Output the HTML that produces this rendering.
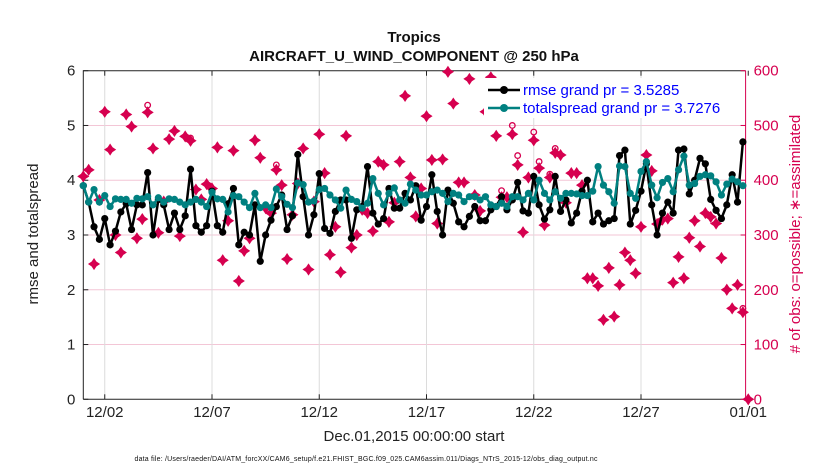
<!DOCTYPE html>
<html><head><meta charset="utf-8"><style>
html,body{margin:0;padding:0;background:#fff;}
svg{display:block;font-family:"Liberation Sans",Arial,sans-serif;}
</style></head><body>
<svg id="chart" width="830" height="470" viewBox="0 0 830 470">
<rect width="830" height="470" fill="#fff"/>
<text x="414" y="42" text-anchor="middle" font-size="15" font-weight="bold" fill="#111">Tropics</text>
<text x="414" y="61" text-anchor="middle" font-size="15" font-weight="bold" fill="#111">AIRCRAFT_U_WIND_COMPONENT @ 250 hPa</text>
<g id="grid"></g>
<g id="axes"></g>
<g id="obs"></g>
<g id="series"></g>
<g id="legend">
  <rect x="484" y="78" width="258" height="40" fill="#fff"/>
  <line x1="488" y1="90" x2="520" y2="90" stroke="#000" stroke-width="2.5"/>
  <circle cx="504" cy="90" r="4" fill="#000"/>
  <text x="523" y="95" font-size="15" fill="#0000ff">rmse grand pr = 3.5285</text>
  <line x1="488" y1="108" x2="520" y2="108" stroke="#008080" stroke-width="2.5"/>
  <circle cx="504" cy="108" r="4" fill="#008080"/>
  <text x="523" y="113" font-size="15" fill="#0000ff">totalspread grand pr = 3.7276</text>
</g>
<text x="0" y="0" transform="translate(38,234) rotate(-90)" text-anchor="middle" font-size="15" fill="#222">rmse and totalspread</text>
<text x="0" y="0" transform="translate(800,234) rotate(-90)" text-anchor="middle" font-size="15" fill="#d6004f"># of obs: o=possible; ∗=assimilated</text>
<text x="414" y="441" text-anchor="middle" font-size="15" fill="#222">Dec.01,2015 00:00:00 start</text>
<text x="366" y="461" text-anchor="middle" font-size="7" fill="#111" textLength="463">data file: /Users/raeder/DAI/ATM_forcXX/CAM6_setup/f.e21.FHIST_BGC.f09_025.CAM6assim.011/Diags_NTrS_2015-12/obs_diag_output.nc</text>
</svg>
<script>
const xTickLabels = ["12/02","12/07","12/12","12/17","12/22","12/27","01/01"];
const xTickDays = [2,7,12,17,22,27,32];
const yTicksLeft = [0,1,2,3,4,5,6];
const yTicksRight = [0,100,200,300,400,500,600];
const rmse = [3.9,3.6,3.15,2.92,3.3,2.82,3.07,3.42,3.57,3.1,3.55,3.55,4.14,3.0,3.65,3.55,3.1,3.4,3.1,3.35,4.2,3.17,3.05,3.17,3.8,3.17,3.05,3.57,3.85,2.82,3.05,3.0,3.55,2.52,3.0,3.27,3.52,3.73,3.1,3.35,4.47,3.7,3.0,3.37,4.12,
3.12,3.03,3.43,3.64,3.64,2.94,3.46,3.52,4.25,3.4,3.2,3.3,3.85,3.49,3.49,3.76,3.64,3.9,3.27,3.52,4.1,3.43,3.0,3.82,3.58,3.24,3.15,3.34,3.52,3.26,3.26,3.46,3.52,3.7,3.46,3.64,3.96,3.44,3.4,4.07,3.55,3.29,3.46,4.07,3.43,3.64,3.22,
3.4,3.8,4.0,3.24,3.4,3.2,3.26,3.3,4.45,4.55,3.2,3.45,3.8,4.3,3.55,3.0,3.4,3.6,3.4,4.55,4.57,3.75,4.0,4.4,4.3,3.65,3.45,3.3,3.55,4.1,3.6,4.7];
const spread = [3.9,3.6,3.83,3.6,3.72,3.52,3.66,3.65,3.65,3.58,3.67,3.66,3.7,3.55,3.68,3.6,3.66,3.65,3.6,3.55,3.6,3.65,3.6,3.52,3.78,3.66,3.65,3.42,3.72,3.7,3.6,3.5,3.76,3.5,3.55,3.5,3.84,3.7,3.56,3.5,3.95,3.92,3.6,3.62,3.83,
3.85,3.73,3.64,3.49,3.82,3.65,3.61,3.49,3.58,4.03,3.76,3.55,3.76,3.86,3.64,3.58,3.93,3.82,3.73,3.73,3.79,3.82,3.76,3.61,3.76,3.73,3.61,3.7,3.7,3.64,3.7,3.55,3.52,3.58,3.52,3.7,3.7,3.64,3.76,3.64,4.0,3.76,3.64,3.79,3.67,3.76,3.76,
3.75,3.72,3.72,3.8,4.25,3.91,3.79,3.58,4.26,4.25,3.76,3.67,4.16,4.34,3.91,3.68,3.96,4.03,3.79,4.19,4.44,3.91,3.94,4.07,4.1,4.08,3.97,3.73,3.93,4.02,3.97,3.9];
const obsAssim = [407,419,247,364,525,456,300,268,520,498,294,329,524,458,304,361,475,490,298,480,472,383,365,393,385,460,254,326,454,216,271,294,473,441,349,340,419,391,256,337,394,458,237,361,484,
413,264,315,232,481,277,300,346,340,307,434,428,324,359,434,554,405,334,385,517,437,321,438,598,540,396,396,585,373,344,525,588,481,369,369,484,428,305,405,473,422,318,405,450,446,359,413,
413,391,221,221,207,145,240,151,209,268,254,230,315,446,417,320,328,330,213,260,221,295,326,279,340,333,321,258,200,166,209,159,0];
const obsPossible = [407,419,247,364,525,456,300,268,520,498,294,329,537,458,304,361,475,490,298,480,477,383,365,393,385,460,254,326,454,216,271,294,473,441,349,340,428,395,256,337,398,460,239,361,484,
413,264,315,232,481,277,300,346,340,307,434,428,324,359,434,556,405,334,385,517,437,321,438,600,540,396,396,585,373,344,525,588,481,381,369,500,445,305,405,488,434,318,411,458,450,359,413,
413,391,221,221,207,145,240,151,209,268,254,230,315,446,417,320,328,330,213,260,221,295,326,279,340,333,321,258,200,166,209,166,0];

const NS="http://www.w3.org/2000/svg";
const PL=83.3, PR=745.6, PT=70.7, PB=399.3;
const xOfDay = d => 83.3 + (d-1)*21.45;
const xOfIdx = i => xOfDay(1 + i*0.25);
const yL = v => PB - v/6*(PB-PT);
const yR = v => PB - v/600*(PB-PT);
function mk(tag, attrs, parent){const e=document.createElementNS(NS,tag);for(const k in attrs)e.setAttribute(k,attrs[k]);parent.appendChild(e);return e;}
const grid=document.getElementById('grid'), axes=document.getElementById('axes'), obsG=document.getElementById('obs'), ser=document.getElementById('series');

yTicksRight.forEach((t)=>{ if(t>0&&t<600){const l=mk('line',{x1:PL,x2:PR,y1:yR(t),y2:yR(t),stroke:'#f3c6d6','stroke-width':1},grid);

}});
xTickDays.forEach((d)=>{const x=xOfDay(d); if(x<PR-1){const l=mk('line',{x1:x,x2:x,y1:PT,y2:PB,stroke:'#dcdcdc','stroke-width':1},grid);

}});

const box=mk('path',{d:`M${PL},${PB} L${PL},${PT} L${PR},${PT}`,fill:'none',stroke:'#222','stroke-width':1},axes);


const xb=mk('line',{x1:PL,x2:PR,y1:PB,y2:PB,stroke:'#222','stroke-width':1},axes);


const ra=mk('line',{x1:PR,x2:PR,y1:PT,y2:PB,stroke:'#d6004f','stroke-width':1},axes);



yTicksLeft.forEach((t)=>{const y=yL(t);
mk('line',{x1:PL,x2:PL+5,y1:y,y2:y,stroke:'#222'},axes);
const tx=mk('text',{x:PL-8,y:y+5,'text-anchor':'end','font-size':15,fill:'#222'},axes);tx.textContent=t;

});
yTicksRight.forEach((t)=>{const y=yR(t);
mk('line',{x1:PR-5,x2:PR,y1:y,y2:y,stroke:'#d6004f'},axes);
const tx=mk('text',{x:PR+8,y:y+5,'font-size':15,fill:'#d6004f'},axes);tx.textContent=t;

});
xTickDays.forEach((d,i)=>{const x=xOfDay(d);
mk('line',{x1:x,x2:x,y1:PB,y2:PB-5,stroke:'#222'},axes);
mk('line',{x1:x,x2:x,y1:PT,y2:PT+5,stroke:'#222'},axes);
const tx=mk('text',{x:x,y:417,'text-anchor':'middle','font-size':15,fill:'#222'},axes);tx.textContent=xTickLabels[i];

});

// obs markers
obsPossible.forEach((v,i)=>{ if(v-obsAssim[i]>4){const c=mk('circle',{cx:xOfIdx(i),cy:yR(v),r:2.8,fill:'none',stroke:'#d6004f','stroke-width':1.3},obsG);

}});
obsAssim.forEach((v,i)=>{const x=xOfIdx(i), y=yR(v);
const g=mk('path',{d:`M${x},${y-5}L${x+2},${y-2}L${x+5},${y}L${x+2},${y+2}L${x},${y+5}L${x-2},${y+2}L${x-5},${y}L${x-2},${y-2}Z`,fill:'#d6004f',stroke:'#d6004f','stroke-width':1.2},obsG);

});

function drawSeries(vals,color,name){
 const d=vals.map((v,i)=>(i?'L':'M')+xOfIdx(i).toFixed(1)+','+yL(v).toFixed(1)).join(' ');
 const p=mk('path',{d:d,fill:'none',stroke:color,'stroke-width':2.5,'stroke-linejoin':'round'},ser);
 
 
 vals.forEach((v,i)=>{const c=mk('circle',{cx:xOfIdx(i),cy:yL(v),r:3.6,fill:color},ser);
 
 });
}
drawSeries(rmse,'#000','rmse');
drawSeries(spread,'#008080','totalspread');
</script>
</body></html>
